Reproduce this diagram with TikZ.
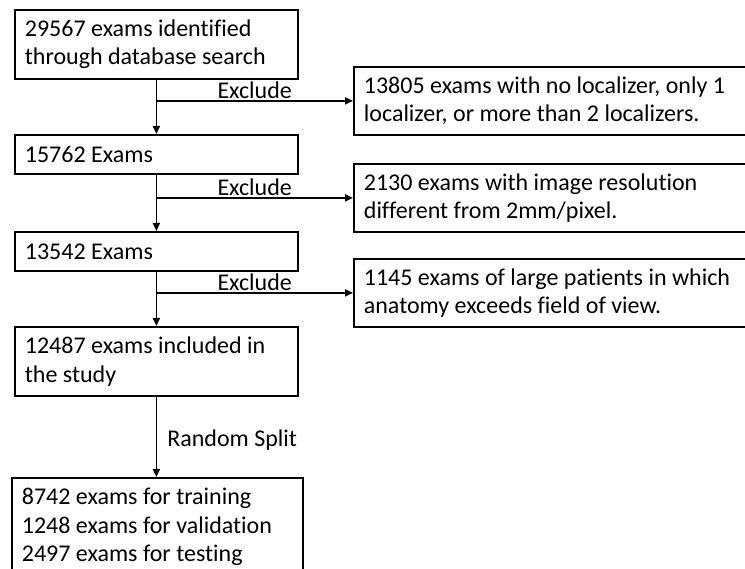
\documentclass[tikz,border=0pt]{standalone}
\usepackage{fontspec}
\setmainfont[Ligatures=NoCommon]{Carlito}
\usetikzlibrary{arrows.meta,calc}
\begin{document}
\begin{tikzpicture}[x=1pt,y=-1pt,
  every node/.style={font=\fontsize{24}{28.5}\selectfont},
  box/.style={draw, line width=1.8pt, rectangle, anchor=north west, align=flush left, inner xsep=10pt, inner ysep=0pt},
  arr/.style={line width=1.8pt, -{Triangle[length=8pt,width=7pt]}},
  lbl/.style={inner sep=1.5pt}]
\useasboundingbox (0,0) rectangle (745,569);
\clip (0,0) rectangle (745,569);
\fill[white] (0,0) rectangle (745,569);
% left column
\node[box, minimum width=283pt, minimum height=69pt, text width=263pt] (b1) at (14,9)
  {29567 exams identified\\through database search};
\node[box, minimum width=283pt, minimum height=39pt, text width=263pt] (b2) at (14,134)
  {15762 Exams};
\node[box, minimum width=283pt, minimum height=39pt, text width=263pt] (b3) at (14,231)
  {13542 Exams};
\node[box, minimum width=283pt, minimum height=69pt, text width=263pt] (b4) at (14,326)
  {12487 exams included in\\the study};
\node[box, minimum width=291pt, minimum height=98pt, text width=271pt] (b5) at (11,477)
  {8742 exams for training\\1248 exams for validation\\2497 exams for testing};
% right column
\node[box, minimum width=407pt, minimum height=68pt, text width=387pt] (r1) at (353,66)
  {13805 exams with no localizer, only 1\\localizer, or more than 2 localizers.};
\node[box, minimum width=407pt, minimum height=68pt, text width=387pt] (r2) at (353,163)
  {2130 exams with image resolution\\different from 2mm/pixel.};
\node[box, minimum width=407pt, minimum height=68pt, text width=387pt] (r3) at (353,258)
  {1145 exams of large patients in which\\anatomy exceeds field of view.};
% connectors
\coordinate (t1) at (b1.south |- r1.west);
\coordinate (t2) at (b2.south |- r2.west);
\coordinate (t3) at (b3.south |- r3.west);
\draw[arr] (b1.south) -- (b2.north);
\draw[arr] (b2.south) -- (b3.north);
\draw[arr] (b3.south) -- (b4.north);
\draw[arr] (t1) -- node[midway, above, lbl] {Exclude} (r1.west);
\draw[arr] (t2) -- node[midway, above, lbl] {Exclude} (r2.west);
\draw[arr] (t3) -- node[midway, above, lbl] {Exclude} (r3.west);
\draw[arr] (b4.south) -- node[midway, right, inner sep=0pt, xshift=10pt, yshift=-3pt] {Random Split} (b4.south |- b5.north);
\end{tikzpicture}
\end{document}
